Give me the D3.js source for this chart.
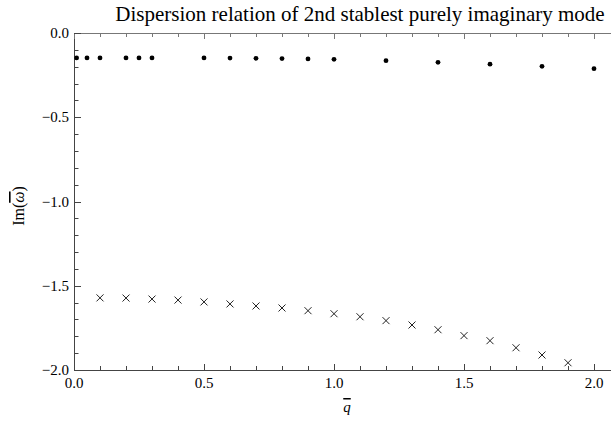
<!DOCTYPE html>
<html>
<head>
<meta charset="utf-8">
<script src="https://cdn.jsdelivr.net/npm/d3@7"></script>
<style>
  body { margin: 0; background: #fff; }
  text { font-family: "Liberation Serif", "Times New Roman", serif; }
</style>
</head>
<body>
<svg id="chart"></svg>
<script>
// slowest purely imaginary mode (dots) and the 2nd one (crosses)
var qDots = [0.01, 0.05, 0.1, 0.2, 0.25, 0.3, 0.5, 0.6, 0.7, 0.8, 0.9, 1.0, 1.2, 1.4, 1.6, 1.8, 2.0]
var imDots = [-0.148, -0.148, -0.148, -0.148, -0.148, -0.148, -0.148, -0.149, -0.150, -0.152, -0.154, -0.156, -0.164, -0.174, -0.185, -0.198, -0.212]

var qCross = [0.1, 0.2, 0.3, 0.4, 0.5, 0.6, 0.7, 0.8, 0.9, 1.0, 1.1, 1.2, 1.3, 1.4, 1.5, 1.6, 1.7, 1.8, 1.9]
var imCross = [-1.572, -1.573, -1.579, -1.585, -1.596, -1.608, -1.620, -1.632, -1.648, -1.666, -1.684, -1.707, -1.733, -1.761, -1.796, -1.826, -1.868, -1.911, -1.957]

var xTicks = [0, 0.5, 1.0, 1.5, 2.0]
var yTicks = [0, -0.5, -1.0, -1.5, -2.0]

var width = 611
var height = 421
// plot box edges (not "top": that name is taken by window.top)
var pL = 74, pR = 611, pT = 33, pB = 370

var svg = d3.select('#chart')
svg.attr('width', width).attr('height', height)

var x = d3.scaleLinear().domain([0, (pR - pL) / 260]).range([pL, pR])
var y = d3.scaleLinear().domain([-2, 0]).range([pB, pT])

var fmt = function (d) { return d3.format('.1f')(d).replace('-', '\u2212') }

var minorX = d3.range(0, 21).map(function (i) { return i / 10 })
var minorY = d3.range(0, 21).map(function (i) { return -i / 10 })

var frame = svg.append('g').attr('stroke', '#444').attr('stroke-width', 1).attr('fill', 'none')

// frame lines: bottom, left, top
frame.append('line').attr('x1', pL).attr('x2', pR).attr('y1', pB + 0.5).attr('y2', pB + 0.5)
frame.append('line').attr('x1', pL + 0.5).attr('x2', pL + 0.5).attr('y1', pT).attr('y2', pB + 1)
frame.append('line').attr('x1', pL).attr('x2', pR).attr('y1', pT + 0.5).attr('y2', pT + 0.5).attr('stroke', '#777')

// inward ticks, longer on the labelled ones
var isMajor = function (v) { return Math.abs(v * 2 - Math.round(v * 2)) < 1e-6 }

frame.selectAll('.tb').data(minorX).enter().append('line')
    .attr('x1', function (d) { return Math.round(x(d)) + 0.5 })
    .attr('x2', function (d) { return Math.round(x(d)) + 0.5 })
    .attr('y1', pB)
    .attr('y2', function (d) { return pB - (isMajor(d) ? 6 : 4) })

frame.selectAll('.tt').data(minorX).enter().append('line')
    .attr('stroke', '#777')
    .attr('x1', function (d) { return Math.round(x(d)) + 0.5 })
    .attr('x2', function (d) { return Math.round(x(d)) + 0.5 })
    .attr('y1', pT)
    .attr('y2', function (d) { return pT + (isMajor(d) ? 6 : 4) })

frame.selectAll('.tl').data(minorY).enter().append('line')
    .attr('y1', function (d) { return Math.round(y(d)) + 0.5 })
    .attr('y2', function (d) { return Math.round(y(d)) + 0.5 })
    .attr('x1', pL)
    .attr('x2', function (d) { return pL + (isMajor(d) ? 7 : 4.5) })

// tick labels
svg.selectAll('.xl').data(xTicks).enter().append('text')
    .attr('x', function (d) { return x(d) })
    .attr('y', pB + 17.5)
    .attr('text-anchor', 'middle')
    .attr('font-size', 15)
    .text(fmt)

svg.selectAll('.yl').data(yTicks).enter().append('text')
    .attr('x', pL - 5)
    .attr('y', function (d) { return y(d) + 5 })
    .attr('text-anchor', 'end')
    .attr('font-size', 15)
    .text(fmt)

// title and axis labels
svg.append('text')
    .attr('x', 360).attr('y', 21)
    .attr('text-anchor', 'middle')
    .attr('font-size', 21)
    .text('Dispersion relation of 2nd stablest purely imaginary mode')

var yl = svg.append('text')
    .attr('transform', 'translate(24,206) rotate(-90)')
    .attr('text-anchor', 'middle')
    .attr('font-size', 16)
yl.append('tspan').text('Im(')
yl.append('tspan').attr('font-style', 'italic').attr('text-decoration', 'overline').text('\u03c9')
yl.append('tspan').text(')')

svg.append('text')
    .attr('x', 347).attr('y', 412)
    .attr('text-anchor', 'middle')
    .attr('font-size', 15)
    .attr('font-style', 'italic')
    .attr('text-decoration', 'overline')
    .text('q')

// data marks
var dots = qDots.map(function (q, i) { return { q: q, v: imDots[i] } })
var crosses = qCross.map(function (q, i) { return { q: q, v: imCross[i] } })

svg.selectAll('circle').data(dots).enter().append('circle')
    .attr('cx', function (d) { return x(d.q) })
    .attr('cy', function (d) { return y(d.v) })
    .attr('r', 2.4)
    .attr('fill', '#000')

var s = 3.5
svg.selectAll('.cross').data(crosses).enter().append('path')
    .attr('class', 'cross')
    .attr('d', function (d) {
      var cx = x(d.q), cy = y(d.v)
      return 'M' + (cx - s) + ',' + (cy - s) + 'L' + (cx + s) + ',' + (cy + s) +
             'M' + (cx - s) + ',' + (cy + s) + 'L' + (cx + s) + ',' + (cy - s)
    })
    .attr('stroke', '#222')
    .attr('stroke-width', 1)
    .attr('fill', 'none')
</script>
</body>
</html>
